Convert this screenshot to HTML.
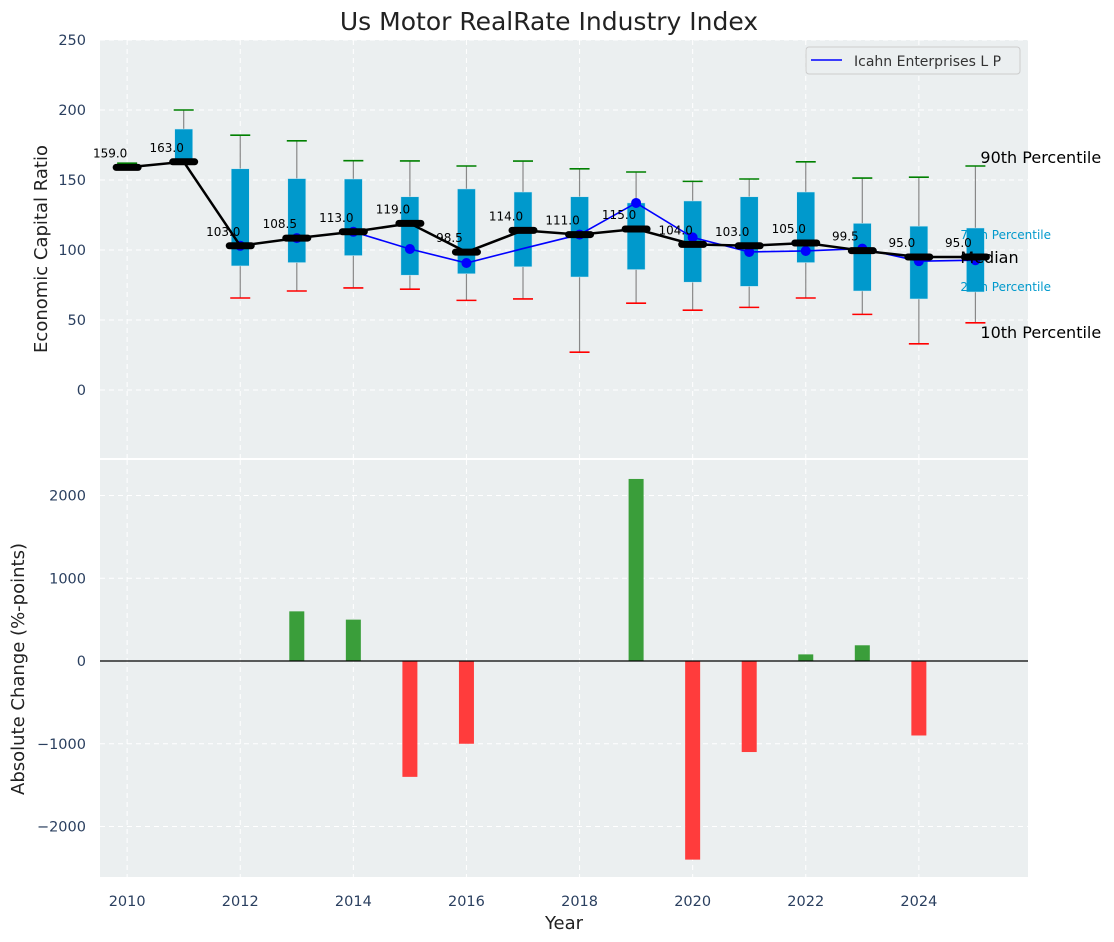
<!DOCTYPE html>
<html><head><meta charset="utf-8"><style>
body{margin:0;background:#fff;}
svg{display:block;font-family:"DejaVu Sans","Liberation Sans",sans-serif;}
</style></head><body>
<svg id="c" width="1114" height="942" xmlns="http://www.w3.org/2000/svg"></svg>
<script>
const years=[2010,2011,2012,2013,2014,2015,2016,2017,2018,2019,2020,2021,2022,2023,2024,2025];
const p10=[159,163,65.7,70.7,72.9,72,64,65,27,62,57,59,65.7,54,33,48];
const p25=[159,163,88.6,91,96,82,83,88,80.7,86,77,74,91,70.7,65,70];
const medians=[159,163,103,108.5,113,119,98.5,114,111,115,104,103,105,99.5,95,95];
const p75=[159,186.4,158,151,150.7,138,143.6,141.4,138,133.6,135,138,141.4,119,117,115.7];
const p90=[162,200,182,178,163.8,163.6,160,163.5,158,155.7,149,150.7,163,151.4,152,160];
const company=[null,null,103,108.5,113,100.7,90.7,101,111,133.6,109,98.6,99.3,101,92,92.7];
const changes=[0,0,0,600,500,-1400,-1000,0,0,2200,-2400,-1100,80,190,-900,0];
const topTicks=[0,50,100,150,200,250];
const botTicks=[-2000,-1000,0,1000,2000];
const xTicks=[2010,2012,2014,2016,2018,2020,2022,2024];

const NS="http://www.w3.org/2000/svg";
const svg=document.getElementById('c');
function el(t,a,txt){const e=document.createElementNS(NS,t);for(const k in a)e.setAttribute(k,a[k]);if(txt!==undefined)e.textContent=txt;svg.appendChild(e);return e;}
const L=100,R=1028,T1=40,B1=458,T2=460,B2=877;
const xmin=2009.52,xmax=2025.93;
const X=v=>L+(v-xmin)/(xmax-xmin)*(R-L);
const y1min=-48.6,y1max=250;
const Y1=v=>B1-(v-y1min)/(y1max-y1min)*(B1-T1);
const y2min=-2610,y2max=2429;
const Y2=v=>B2-(v-y2min)/(y2max-y2min)*(B2-T2);
const tc="#2a3f5f";

let e;
e=el('rect',{x:L,y:T1,width:R-L,height:B1-T1,fill:"#ebeff0"});

e=el('rect',{x:L,y:T2,width:R-L,height:B2-T2,fill:"#ebeff0"});

xTicks.forEach(t=>{
  e=el('line',{x1:X(t),x2:X(t),y1:T1,y2:B1,stroke:"#fff","stroke-dasharray":"5,4","stroke-width":1});
  
  e=el('line',{x1:X(t),x2:X(t),y1:T2,y2:B2,stroke:"#fff","stroke-dasharray":"5,4","stroke-width":1});
  
  e=el('text',{x:X(t),y:B2+29,"text-anchor":"middle","font-size":14.5,fill:tc},t);
  
});
topTicks.forEach(t=>{
  e=el('line',{x1:L,x2:R,y1:Y1(t),y2:Y1(t),stroke:"#fff","stroke-dasharray":"5,4","stroke-width":1});
  
  e=el('text',{x:L-14,y:Y1(t)+5,"text-anchor":"end","font-size":14.5,fill:tc},t);
  
});
botTicks.forEach(t=>{
  e=el('line',{x1:L,x2:R,y1:Y2(t),y2:Y2(t),stroke:"#fff","stroke-dasharray":"5,4","stroke-width":1});
  
  e=el('text',{x:L-14,y:Y2(t)+5,"text-anchor":"end","font-size":14.5,fill:tc},(t<0?"\u2212"+(-t):t));
  
});
years.forEach((yr,i)=>{
  const x=X(yr);
  e=el('line',{x1:x,x2:x,y1:Y1(p90[i]),y2:Y1(p10[i]),stroke:"#888","stroke-width":1.2});
  
  if(p75[i]>p25[i]){
    e=el('rect',{x:x-9,y:Y1(p75[i]),width:18,height:Y1(p25[i])-Y1(p75[i]),fill:"#0099cc",stroke:"#cde8f2","stroke-width":0.5});
    
  }
  e=el('line',{x1:x-10,x2:x+10,y1:Y1(p90[i]),y2:Y1(p90[i]),stroke:"green","stroke-width":1.6});
  
  if(p10[i]<p25[i]){
    e=el('line',{x1:x-10,x2:x+10,y1:Y1(p10[i]),y2:Y1(p10[i]),stroke:"red","stroke-width":1.6});
    
  }
});
let pts=[];
years.forEach((yr,i)=>{if(company[i]!==null)pts.push(X(yr)+","+Y1(company[i]));});
e=el('polyline',{points:pts.join(" "),fill:"none",stroke:"blue","stroke-width":1.6});

years.forEach((yr,i)=>{if(company[i]!==null&&i!==7){
  e=el('circle',{cx:X(yr),cy:Y1(company[i]),r:5,fill:"blue"});
  
}});
e=el('polyline',{points:years.map((yr,i)=>X(yr)+","+Y1(medians[i])).join(" "),fill:"none",stroke:"#000","stroke-width":2.5});

years.forEach((yr,i)=>{
  const x=X(yr),y=Y1(medians[i]);
  e=el('line',{x1:x-11,x2:x+11,y1:y,y2:y,stroke:"#000","stroke-width":7,"stroke-linecap":"round"});
  
  e=el('text',{x:x-17,y:y-10,"text-anchor":"middle","font-size":12,fill:"#000"},medians[i].toFixed(1));
  
});
const lx=X(2025);
e=el('text',{x:lx+5,y:Y1(p90[15])-3,"font-size":16,fill:"#000"},"90th Percentile");

e=el('text',{x:lx-15,y:Y1(p75[15])+11,"font-size":12,fill:"#0099cc"},"75th Percentile");

e=el('text',{x:lx-15,y:Y1(medians[15])+6,"font-size":16,fill:"#000"},"Median");

e=el('text',{x:lx-15,y:Y1(p25[15])+-1,"font-size":12,fill:"#0099cc"},"25th Percentile");

e=el('text',{x:lx+5,y:Y1(p10[15])+15,"font-size":16,fill:"#000"},"10th Percentile");

e=el('rect',{x:806,y:47,width:214,height:27,rx:3,fill:"#ebeff0",stroke:"#ccc"});

e=el('line',{x1:811,x2:842,y1:60,y2:60,stroke:"blue","stroke-width":1.6});

e=el('text',{x:854,y:66,"font-size":14,fill:"#333"},"Icahn Enterprises L P");

years.forEach((yr,i)=>{
  const v=changes[i]; if(v===0)return;
  const y0=Y2(0),yv=Y2(v);
  e=el('rect',{x:X(yr)-7.5,y:Math.min(y0,yv),width:15,height:Math.abs(yv-y0),fill:v>0?"#3a9e3a":"#ff3c3c"});
  
});
e=el('line',{x1:L,x2:R,y1:Y2(0),y2:Y2(0),stroke:"#000","stroke-width":1.2});

e=el('text',{x:549,y:30,"text-anchor":"middle","font-size":25,fill:"#222"},"Us Motor RealRate Industry Index");

e=el('text',{x:0,y:0,"text-anchor":"middle","font-size":18,fill:"#222",transform:"translate(47,249) rotate(-90)"},"Economic Capital Ratio");

e=el('text',{x:0,y:0,"text-anchor":"middle","font-size":18,fill:"#222",transform:"translate(24,669) rotate(-90)"},"Absolute Change (%-points)");

e=el('text',{x:564,y:929,"text-anchor":"middle","font-size":18,fill:"#222"},"Year");

</script>
</body></html>
